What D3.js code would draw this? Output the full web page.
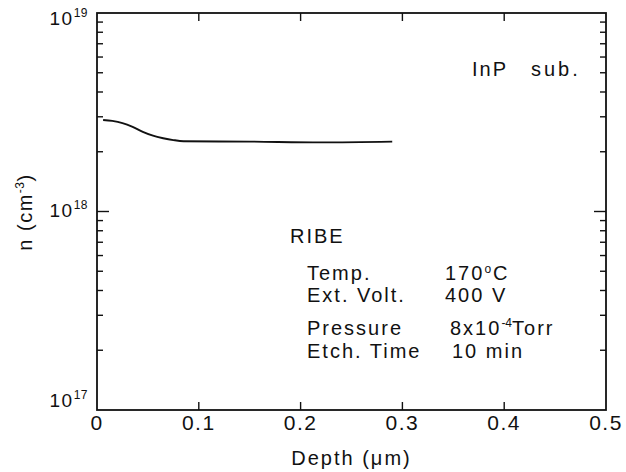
<!DOCTYPE html>
<html>
<head>
<meta charset="utf-8">
<script src="https://cdn.jsdelivr.net/npm/d3@7"></script>
<style>
  body { margin: 0; background: #fff; }
  text { font-family: "Liberation Sans", Arial, sans-serif; fill: #111; letter-spacing: 2px; }
</style>
</head>
<body>
<div id="chart"></div>
<script>
// depth profile of carrier concentration after RIBE
var depth = [0.006, 0.015, 0.025, 0.035, 0.045, 0.055, 0.065, 0.075, 0.085, 0.15, 0.22, 0.29];
var conc = [2.89e18, 2.86e18, 2.79e18, 2.67e18, 2.52e18, 2.41e18, 2.34e18, 2.29e18, 2.26e18, 2.25e18, 2.23e18, 2.25e18];

var xTicks = [0, 0.1, 0.2, 0.3, 0.4, 0.5];
var yDecades = [17, 18, 19];

var width = 626, height = 472;
var margin = {left: 97, right: 20, top: 13, bottom: 62};

var svg = d3.select("#chart").append("svg")
    .attr("width", width)
    .attr("height", height);

var x = d3.scaleLinear().domain([0, 0.5]).range([margin.left, width - margin.right]);
var y = d3.scaleLog().domain([1e17, 1e19]).range([height - margin.bottom, margin.top]);

var x0 = x.range()[0], x1 = x.range()[1];
var y0 = y.range()[0], y1 = y.range()[1];

// frame
svg.append("rect")
    .attr("x", x0).attr("y", y1)
    .attr("width", x1 - x0).attr("height", y0 - y1)
    .attr("fill", "none").attr("stroke", "#111").attr("stroke-width", 1.8);

// minor log ticks on left and right, pointing inward
var minorVals = [];
[17, 18].forEach(function (e) {
    for (var m = 2; m <= 9; m++) minorVals.push(m * Math.pow(10, e));
});
minorVals.push(1e18);

var g = svg.append("g").attr("stroke", "#111").attr("stroke-width", 1.4);
minorVals.forEach(function (v) {
    var len = v === 1e18 ? 12 : 6;
    g.append("line").attr("x1", x0).attr("x2", x0 + len).attr("y1", y(v)).attr("y2", y(v));
    g.append("line").attr("x1", x1).attr("x2", x1 - len).attr("y1", y(v)).attr("y2", y(v));
});

// x ticks on top and bottom
xTicks.slice(1, -1).forEach(function (t) {
    g.append("line").attr("x1", x(t)).attr("x2", x(t)).attr("y1", y0).attr("y2", y0 - 8);
    g.append("line").attr("x1", x(t)).attr("x2", x(t)).attr("y1", y1).attr("y2", y1 + 8);
});

// x tick labels
svg.selectAll(".xl").data(xTicks).enter().append("text")
    .attr("x", function (d) { return x(d); })
    .attr("y", y0 + 20)
    .attr("text-anchor", "middle")
    .style("font-size", "21px")
    .style("letter-spacing", "1.5px")
    .text(function (d) { return d === 0 ? "0" : d3.format(".1f")(d); });

// y tick labels 10^n (scanned original sits labels a bit off the ticks)
var yLabelShift = [-3, 5, 12];
yDecades.forEach(function (e, i) {
    var t = svg.append("text")
        .attr("x", x0 - 9)
        .attr("y", y(Math.pow(10, e)) + yLabelShift[i])
        .attr("text-anchor", "end")
        .style("font-size", "19px")
        .style("letter-spacing", "1.5px");
    t.append("tspan").text("10");
    t.append("tspan").attr("dy", -8).style("font-size", "12px").style("letter-spacing", "0.5px").text(e);
});

// axis titles
svg.append("text")
    .attr("x", x(0.5 / 2))
    .attr("y", 465)
    .attr("text-anchor", "middle")
    .style("font-size", "20px")
    .text("Depth (\u03bcm)");

var yt = svg.append("text")
    .attr("transform", "translate(32,212) rotate(-90)")
    .attr("text-anchor", "middle")
    .style("font-size", "20px")
    .style("letter-spacing", "1.5px");
yt.append("tspan").text("n (cm");
yt.append("tspan").attr("dy", -8).style("font-size", "12px").style("letter-spacing", "0.5px").text("-3");
yt.append("tspan").attr("dy", 8).text(")");

// curve
var line = d3.line()
    .x(function (d, i) { return x(depth[i]); })
    .y(function (d) { return y(d); })
    .curve(d3.curveMonotoneX);

svg.append("path")
    .datum(conc)
    .attr("d", line)
    .attr("fill", "none")
    .attr("stroke", "#111")
    .attr("stroke-width", 1.9);

// annotations
function label(txt, px, py, size) {
    return svg.append("text").attr("x", px).attr("y", py).style("font-size", (size || 20) + "px").text(txt);
}
label("InP", 472, 76);
label("sub.", 531, 76).style("letter-spacing", "3px");
label("RIBE", 290, 243);
label("Temp.", 307, 280);
label("Ext. Volt.", 307, 302);
label("Pressure", 307, 335);
label("Etch. Time", 307, 358);

var tc = label("170", 445, 280);
tc.append("tspan").attr("dy", -7).style("font-size", "12px").text("o");
tc.append("tspan").attr("dy", 7).text("C");
label("400 V", 445, 302);
var pr = label("8x10", 450, 335);
pr.append("tspan").attr("dy", -8).style("font-size", "12px").style("letter-spacing", "0px").text("-4");
pr.append("tspan").attr("dy", 8).text("Torr");
label("10 min", 452, 358);
</script>
</body>
</html>
